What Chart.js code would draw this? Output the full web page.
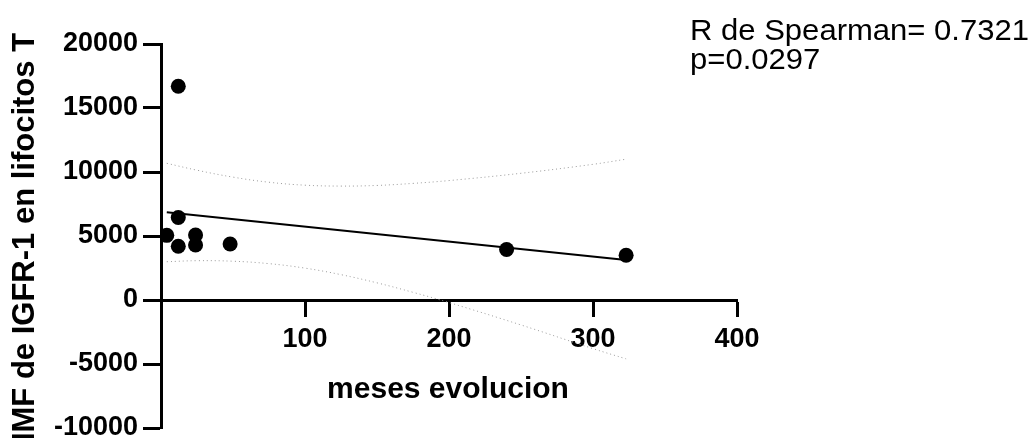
<!DOCTYPE html>
<html>
<head>
<meta charset="utf-8">
<script src="https://cdn.jsdelivr.net/npm/chart.js@4.4.0/dist/chart.umd.min.js"></script>
<style>
  html, body { margin: 0; padding: 0; background: #fff; overflow: hidden; }
  #wrap { width: 1034px; height: 438px; }
</style>
</head>
<body>
<div id="wrap"><canvas id="c" width="1034" height="438"></canvas></div>
<script>
// values
const meses = [4, 12, 12, 12, 24, 24, 48, 240, 323];
const imf = [5050, 16700, 6450, 4200, 5080, 4300, 4380, 3950, 3500];

// fitted line end points
const fitX = [4, 323];
const fitY = [6850, 3125];

// confidence band (dotted), read at these x
const bandX = [4, 25, 50, 75, 100, 125, 150, 175, 200, 250, 300, 323];
const bandUpper = [10680, 10140, 9600, 9200, 8970, 8900, 8950, 9110, 9330, 9900, 10600, 11000];
const bandLower = [2990, 3070, 3030, 2840, 2490, 1980, 1340, 600, -200, -1950, -3800, -4600];

const xTicks = [0, 100, 200, 300, 400];
const yTicks = [-10000, -5000, 0, 5000, 10000, 15000, 20000];

const xTitle = "meses evolucion";
const yTitle = "IMF de IGFR-1 en lifocitos T";
const note = ["R de Spearman= 0.7321", "p=0.0297"];

const FONT = "'Liberation Sans', Arial, sans-serif";

const toPts = (xs, ys) => xs.map((x, i) => ({ x: x, y: ys[i] }));

// titles and the Spearman note
const textPlugin = {
  id: 'texts',
  afterDraw(chart) {
    const ctx = chart.ctx;
    ctx.save();
    ctx.fillStyle = '#000';
    ctx.textBaseline = 'alphabetic';

    ctx.font = "bold 30px " + FONT;
    ctx.textAlign = 'center';
    ctx.fillText(xTitle, 448, 398);

    ctx.save();
    ctx.font = "bold 31px " + FONT;
    ctx.translate(34, 237);
    ctx.rotate(-Math.PI / 2);
    ctx.fillText(yTitle, 0, 0);
    ctx.restore();

    // the note is drawn a bit wide, like the original export
    ctx.save();
    ctx.font = "29px " + FONT;
    ctx.textAlign = 'left';
    ctx.translate(690, 0);
    ctx.scale(1.07, 1);
    ctx.fillText(note[0], 0, 40);
    ctx.fillText(note[1], 0, 69);
    ctx.restore();
    ctx.restore();
  }
};

new Chart(document.getElementById('c'), {
  type: 'scatter',
  data: {
    datasets: [
      {
        data: toPts(meses, imf),
        pointRadius: 7.5,
        pointBackgroundColor: '#000',
        pointBorderWidth: 0,
        showLine: false
      },
      {
        data: toPts(fitX, fitY),
        showLine: true,
        borderColor: '#000',
        borderWidth: 2,
        pointRadius: 0
      },
      {
        data: toPts(bandX, bandUpper),
        showLine: true,
        borderColor: '#999999',
        borderWidth: 1,
        borderDash: [1, 3],
        tension: 0.4,
        pointRadius: 0
      },
      {
        data: toPts(bandX, bandLower),
        showLine: true,
        borderColor: '#999999',
        borderWidth: 1,
        borderDash: [1, 3],
        tension: 0.4,
        pointRadius: 0
      }
    ]
  },
  options: {
    responsive: false,
    animation: false,
    layout: { padding: { left: 0, top: 44, right: 297, bottom: 10 } },
    plugins: { legend: { display: false }, tooltip: { enabled: false } },
    scales: {
      x: {
        type: 'linear',
        min: xTicks[0],
        max: xTicks[xTicks.length - 1],
        position: { y: 0 },
        afterBuildTicks: (s) => { s.ticks = xTicks.map(v => ({ value: v })); },
        afterFit: (s) => { s.paddingLeft = 0; s.paddingRight = 0; },
        ticks: {
          color: '#000',
          font: { family: FONT, size: 27, weight: 'bold' },
          padding: 8,
          maxRotation: 0,
          callback: (v) => (v === 0 ? '' : String(v))
        },
        grid: { drawOnChartArea: false, drawTicks: true, tickLength: 15, tickWidth: 3, tickColor: '#000' },
        border: { color: '#000', width: 3 }
      },
      y: {
        type: 'linear',
        min: yTicks[0],
        max: yTicks[yTicks.length - 1],
        afterBuildTicks: (s) => { s.ticks = yTicks.map(v => ({ value: v })); },
        afterFit: (s) => { s.width = 161; s.paddingTop = 0; s.paddingBottom = 0; },
        ticks: {
          color: '#000',
          font: { family: FONT, size: 27, weight: 'bold' },
          padding: 5,
          callback: (v) => String(v)
        },
        grid: { drawOnChartArea: false, drawTicks: true, tickLength: 18, tickWidth: 3, tickColor: '#000' },
        border: { color: '#000', width: 3 }
      }
    }
  },
  plugins: [textPlugin]
});
</script>
</body>
</html>
